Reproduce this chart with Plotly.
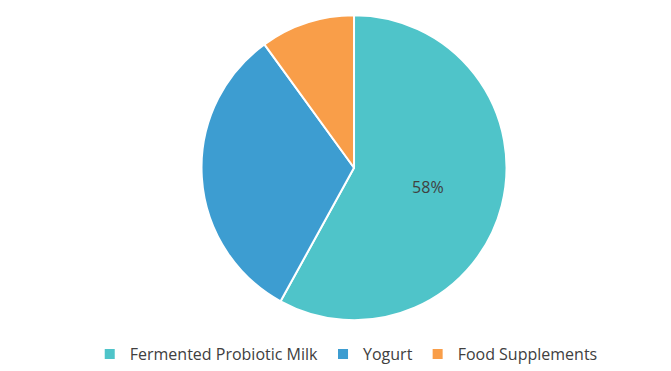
import plotly.graph_objects as go

categories = ["Fermented Probiotic Milk", "Yogurt", "Food Supplements"]
values = [58, 32, 10]
colors = ["#4FC4C9", "#3D9DD1", "#F99E49"]
shown_labels = ["%{percent:.0%}", "", ""]

fig = go.Figure(go.Pie(
    labels=categories,
    values=values,
    sort=False,
    direction="clockwise",
    rotation=0,
    marker=dict(colors=colors, line=dict(color="white", width=2)),
    texttemplate=shown_labels,
    textposition="inside",
    insidetextorientation="horizontal",
    textfont=dict(family="Open Sans", size=16, color="#404040"),
    hoverinfo="label+percent",
    domain=dict(x=[0.2966, 0.7586], y=[0.1227, 0.9583]),
))

fig.update_layout(
    width=671, height=371,
    margin=dict(l=0, r=0, t=0, b=0),
    paper_bgcolor="white",
    plot_bgcolor="white",
    showlegend=True,
    legend=dict(
        orientation="h",
        x=0.516, xanchor="center",
        y=0.03, yanchor="middle",
        font=dict(family="Open Sans", size=16, color="#404040"),
        itemsizing="constant",
        itemwidth=30,
    ),
    font=dict(family="Open Sans"),
)

fig.write_html("out.html")
